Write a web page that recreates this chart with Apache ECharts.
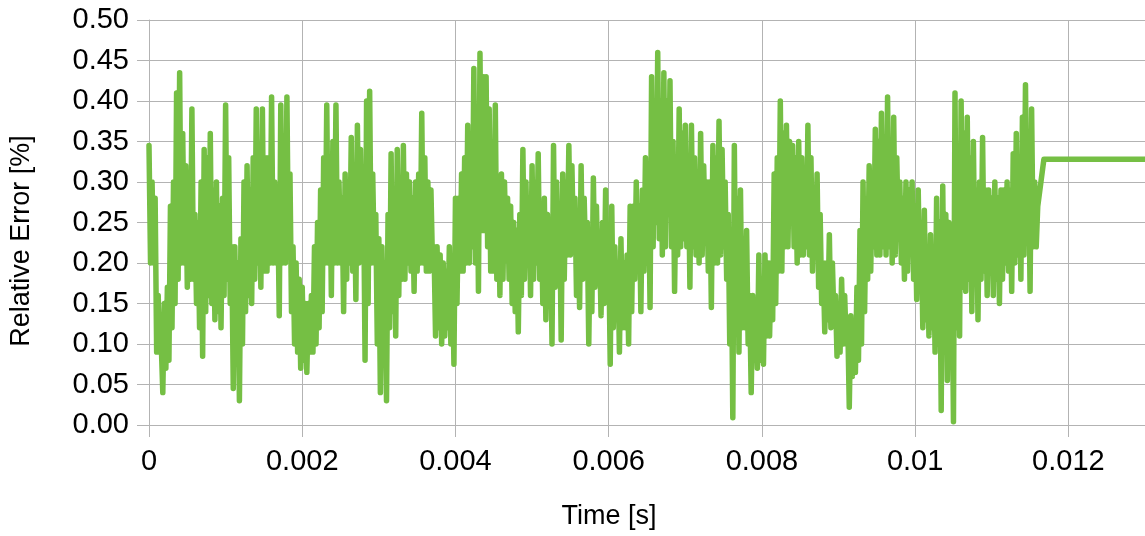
<!DOCTYPE html>
<html>
<head>
<meta charset="utf-8">
<title>Relative Error over Time</title>
<script src="https://cdn.jsdelivr.net/npm/echarts@6/dist/echarts.min.js"></script>
<style>
  html, body { margin: 0; padding: 0; background: #ffffff; }
  #chart { width: 1145px; height: 536px; }
</style>
</head>
<body>
<div id="chart"></div>
<script>
// Sampling interval of the recorded error trace [s]
const sampleStep = 0.00002;

// Relative error [%] per sample, starting at t = 0 (one row = 0.4 ms)
const relativeError = [
  0.345, 0.20, 0.30, 0.20, 0.28, 0.09, 0.16, 0.09, 0.10, 0.04, 0.15, 0.07, 0.17, 0.08, 0.27, 0.12, 0.30, 0.15, 0.41, 0.18,
  0.435, 0.20, 0.36, 0.20, 0.32, 0.17, 0.30, 0.18, 0.39, 0.18, 0.26, 0.15, 0.25, 0.12, 0.30, 0.085, 0.34, 0.14, 0.33, 0.16,
  0.36, 0.15, 0.29, 0.13, 0.30, 0.14, 0.27, 0.12, 0.28, 0.16, 0.395, 0.18, 0.33, 0.15, 0.22, 0.045, 0.22, 0.10, 0.20, 0.03,
  0.23, 0.10, 0.30, 0.14, 0.32, 0.16, 0.29, 0.15, 0.33, 0.18, 0.39, 0.20, 0.30, 0.17, 0.39, 0.19, 0.33, 0.19, 0.33, 0.20,
  0.405, 0.20, 0.30, 0.20, 0.28, 0.135, 0.395, 0.20, 0.33, 0.20, 0.405, 0.21, 0.31, 0.14, 0.22, 0.10, 0.20, 0.09, 0.18, 0.07,
  0.17, 0.08, 0.15, 0.065, 0.15, 0.09, 0.16, 0.09, 0.22, 0.10, 0.25, 0.12, 0.29, 0.14, 0.33, 0.20, 0.395, 0.20, 0.33, 0.16,
  0.35, 0.20, 0.395, 0.20, 0.30, 0.20, 0.28, 0.14, 0.31, 0.18, 0.30, 0.20, 0.355, 0.19, 0.31, 0.155, 0.37, 0.20, 0.34, 0.22,
  0.30, 0.08, 0.40, 0.15, 0.412, 0.20, 0.31, 0.20, 0.26, 0.10, 0.23, 0.04, 0.22, 0.10, 0.20, 0.03, 0.26, 0.12, 0.335, 0.14,
  0.28, 0.11, 0.34, 0.16, 0.30, 0.18, 0.345, 0.18, 0.31, 0.20, 0.30, 0.19, 0.28, 0.165, 0.30, 0.19, 0.31, 0.20, 0.385, 0.20,
  0.33, 0.19, 0.30, 0.19, 0.29, 0.20, 0.22, 0.11, 0.22, 0.12, 0.21, 0.10, 0.20, 0.11, 0.19, 0.12, 0.22, 0.10, 0.20, 0.075,
  0.28, 0.15, 0.28, 0.19, 0.31, 0.19, 0.33, 0.20, 0.37, 0.20, 0.36, 0.22, 0.44, 0.20, 0.38, 0.165, 0.459, 0.24, 0.43, 0.24,
  0.43, 0.22, 0.39, 0.19, 0.33, 0.19, 0.395, 0.18, 0.30, 0.16, 0.31, 0.18, 0.30, 0.21, 0.28, 0.18, 0.27, 0.15, 0.25, 0.14,
  0.24, 0.115, 0.26, 0.16, 0.34, 0.18, 0.30, 0.20, 0.28, 0.16, 0.32, 0.18, 0.30, 0.20, 0.335, 0.18, 0.27, 0.15, 0.28, 0.13,
  0.26, 0.18, 0.25, 0.10, 0.345, 0.17, 0.30, 0.20, 0.26, 0.105, 0.31, 0.18, 0.30, 0.21, 0.345, 0.21, 0.32, 0.22, 0.28, 0.16,
  0.25, 0.145, 0.32, 0.18, 0.28, 0.20, 0.25, 0.10, 0.24, 0.14, 0.305, 0.17, 0.27, 0.18, 0.23, 0.135, 0.25, 0.15, 0.29, 0.16,
  0.22, 0.075, 0.27, 0.12, 0.22, 0.14, 0.20, 0.09, 0.23, 0.12, 0.20, 0.12, 0.21, 0.10, 0.27, 0.14, 0.27, 0.18, 0.30, 0.19,
  0.27, 0.14, 0.29, 0.19, 0.33, 0.20, 0.30, 0.145, 0.43, 0.22, 0.40, 0.25, 0.46, 0.23, 0.40, 0.21, 0.435, 0.22, 0.40, 0.26,
  0.425, 0.22, 0.35, 0.165, 0.30, 0.21, 0.39, 0.22, 0.36, 0.23, 0.37, 0.22, 0.33, 0.17, 0.37, 0.22, 0.33, 0.21, 0.30, 0.20,
  0.36, 0.21, 0.32, 0.23, 0.30, 0.19, 0.30, 0.145, 0.345, 0.20, 0.33, 0.20, 0.375, 0.21, 0.34, 0.22, 0.30, 0.18, 0.26, 0.10,
  0.22, 0.009, 0.345, 0.12, 0.28, 0.09, 0.29, 0.12, 0.22, 0.12, 0.24, 0.10, 0.16, 0.04, 0.16, 0.08, 0.15, 0.07, 0.21, 0.08,
  0.18, 0.075, 0.21, 0.11, 0.20, 0.11, 0.20, 0.13, 0.31, 0.15, 0.33, 0.19, 0.40, 0.19, 0.36, 0.22, 0.37, 0.22, 0.35, 0.25,
  0.345, 0.22, 0.33, 0.20, 0.35, 0.21, 0.33, 0.21, 0.30, 0.22, 0.37, 0.21, 0.33, 0.19, 0.28, 0.22, 0.31, 0.17, 0.26, 0.15,
  0.20, 0.115, 0.20, 0.13, 0.235, 0.12, 0.20, 0.13, 0.16, 0.085, 0.15, 0.09, 0.18, 0.10, 0.16, 0.10, 0.13, 0.022, 0.135, 0.06,
  0.12, 0.065, 0.17, 0.08, 0.24, 0.10, 0.30, 0.14, 0.27, 0.18, 0.32, 0.19, 0.30, 0.22, 0.365, 0.21, 0.35, 0.21, 0.385, 0.22,
  0.35, 0.21, 0.405, 0.22, 0.34, 0.20, 0.38, 0.21, 0.33, 0.24, 0.30, 0.20, 0.28, 0.18, 0.30, 0.19, 0.29, 0.23, 0.30, 0.18,
  0.27, 0.155, 0.29, 0.17, 0.24, 0.12, 0.265, 0.13, 0.20, 0.11, 0.235, 0.12, 0.22, 0.09, 0.28, 0.10, 0.25, 0.018, 0.295, 0.10,
  0.26, 0.055, 0.25, 0.08, 0.20, 0.004, 0.41, 0.12, 0.33, 0.11, 0.40, 0.17, 0.36, 0.165, 0.38, 0.18, 0.33, 0.14, 0.35, 0.18,
  0.29, 0.13, 0.30, 0.18, 0.355, 0.19, 0.29, 0.16, 0.29, 0.19, 0.28, 0.16, 0.30, 0.18, 0.28, 0.15, 0.29, 0.18, 0.29, 0.20,
  0.30, 0.19, 0.29, 0.165, 0.335, 0.20, 0.36, 0.21, 0.31, 0.18, 0.38, 0.21, 0.42, 0.23, 0.33, 0.165, 0.39, 0.22, 0.30, 0.22,
  0.27
];

// Settled value after the transient, held to the end of the run
const settledTime = [0.01168, 0.013];
const settledError = [0.328, 0.328];

// Axis ranges and tick spacing
const xMin = 0, xMax = 0.013, xStep = 0.002;
const yMin = 0, yMax = 0.5, yStep = 0.05;

const points = relativeError.map((v, i) => [i * sampleStep, v]);
settledTime.forEach((t, i) => points.push([t, settledError[i]]));

const gridColor = '#b3b3b3';
const font = '"Liberation Sans", Arial, sans-serif';

const chart = echarts.init(document.getElementById('chart'), null, { renderer: 'canvas' });
chart.setOption({
  animation: false,
  backgroundColor: '#ffffff',
  grid: { left: 149, right: 0, top: 20, bottom: 111, containLabel: false, outerBoundsMode: 'none' },
  xAxis: {
    type: 'value',
    min: xMin, max: xMax, interval: xStep,
    axisLine: { show: true, lineStyle: { color: gridColor, width: 1 } },
    axisTick: { show: true, inside: false, length: 12, lineStyle: { color: gridColor } },
    splitLine: { show: true, lineStyle: { color: gridColor, width: 1 } },
    axisLabel: {
      margin: 22, fontSize: 29, color: '#000000', fontFamily: font,
      showMaxLabel: false,
      formatter: v => v === 0 ? '0' : String(parseFloat(v.toFixed(4)))
    }
  },
  yAxis: {
    type: 'value',
    min: yMin, max: yMax, interval: yStep,
    axisLine: { show: true, lineStyle: { color: gridColor, width: 1 } },
    axisTick: { show: true, inside: false, length: 12, lineStyle: { color: gridColor } },
    splitLine: { show: true, lineStyle: { color: gridColor, width: 1 } },
    axisLabel: {
      margin: 20, fontSize: 29, color: '#000000', fontFamily: font,
      formatter: v => v.toFixed(2)
    }
  },
  graphic: [
    {
      type: 'text', x: 22, y: 241, rotation: Math.PI / 2,
      style: { text: 'Relative Error [%]', fontSize: 27, fontFamily: font, fill: '#000000',
               align: 'center', verticalAlign: 'middle' }
    },
    {
      type: 'text', x: 609, y: 517,
      style: { text: 'Time [s]', fontSize: 27, fontFamily: font, fill: '#000000',
               align: 'center', verticalAlign: 'middle' }
    }
  ],
  series: [{
    type: 'line',
    data: points,
    showSymbol: false,
    symbol: 'none',
    sampling: null,
    clip: true,
    lineStyle: { color: '#75bf44', width: 5.5, cap: 'round', join: 'round' },
    itemStyle: { color: '#75bf44' }
  }]
});
</script>
</body>
</html>
